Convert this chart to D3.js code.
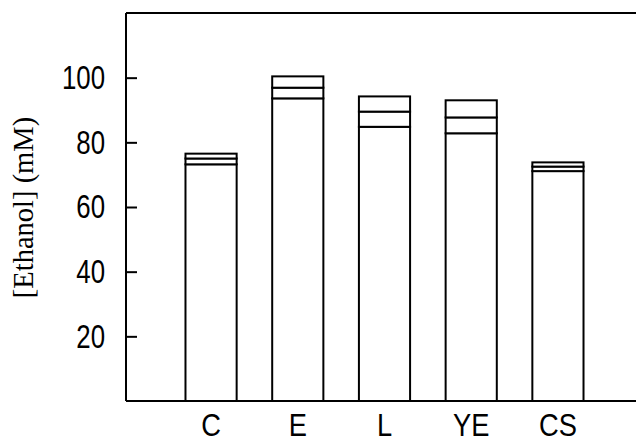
<!DOCTYPE html>
<html><head><meta charset="utf-8">
<script src="https://cdn.jsdelivr.net/npm/d3@7"></script>
<style>body{margin:0;background:#fff}svg{display:block}</style>
</head><body>
<svg id="c" width="636" height="443"></svg>
<script>
const categories = ["C","E","L","YE","CS"];
const level1 = [73.2, 93.6, 84.8, 82.8, 71.1];
const level2 = [75.0, 96.9, 89.5, 87.7, 72.5];
const level3 = [76.5, 100.4, 94.2, 93.0, 73.8];
const yTicks = [20,40,60,80,100];
const yLabel = "[Ethanol] (mM)";

const svg = d3.select("#c");
const mLeft = 126, mTop = 13, mBottom = 401, mRight = 636;
const y = d3.scaleLinear().domain([0,120]).range([mBottom, mTop]);
const x = d3.scaleBand().domain(categories).range([mLeft, 643]).paddingInner(0.41).paddingOuter(0.686);

const segs = [];
categories.forEach((c,i)=>{
  const lv = [0, level1[i], level2[i], level3[i]];
  for (let k=0;k<3;k++) segs.push({c, y0: lv[k], y1: lv[k+1]});
});
svg.append("g").selectAll("rect").data(segs).join("rect")
  .attr("x", d=>x(d.c)).attr("width", x.bandwidth())
  .attr("y", d=>y(d.y1)).attr("height", d=>y(d.y0)-y(d.y1))
  .attr("fill","#fff").attr("stroke","#000").attr("stroke-width",2);

svg.append("line").attr("x1",mLeft).attr("x2",mRight).attr("y1",mTop).attr("y2",mTop).attr("stroke","#000").attr("stroke-width",2);

const ya = svg.append("g").attr("transform",`translate(${mLeft},0)`)
  .call(d3.axisLeft(y).tickValues(yTicks).tickSize(-11).tickPadding(21).tickFormat(d3.format("d")));
ya.select(".domain").attr("d",`M0,${mTop}V${mBottom}`).attr("stroke-width",2);
ya.selectAll(".tick line").attr("stroke-width",2);
ya.selectAll("text").attr("font-family","'Liberation Sans',sans-serif").attr("font-size",34).attr("fill","#000")
  .attr("x",0).attr("transform","translate(-21,0) scale(0.76,1)");

const xa = svg.append("g").attr("transform",`translate(0,${mBottom})`)
  .call(d3.axisBottom(x).tickSize(0).tickPadding(13));
xa.select(".domain").attr("d",`M${mLeft},0H${mRight}`).attr("stroke-width",2);
xa.selectAll("text").attr("font-family","'Liberation Sans',sans-serif").attr("font-size",31).attr("fill","#000")
  .attr("transform","scale(0.88,1)");

svg.append("text").attr("transform",`translate(33,${(120+295)/2}) rotate(-90)`)
  .attr("text-anchor","middle").attr("font-family","'Liberation Serif','Times New Roman',serif")
  .attr("font-size",28.5).attr("fill","#000").text(yLabel);
</script>
</body></html>
